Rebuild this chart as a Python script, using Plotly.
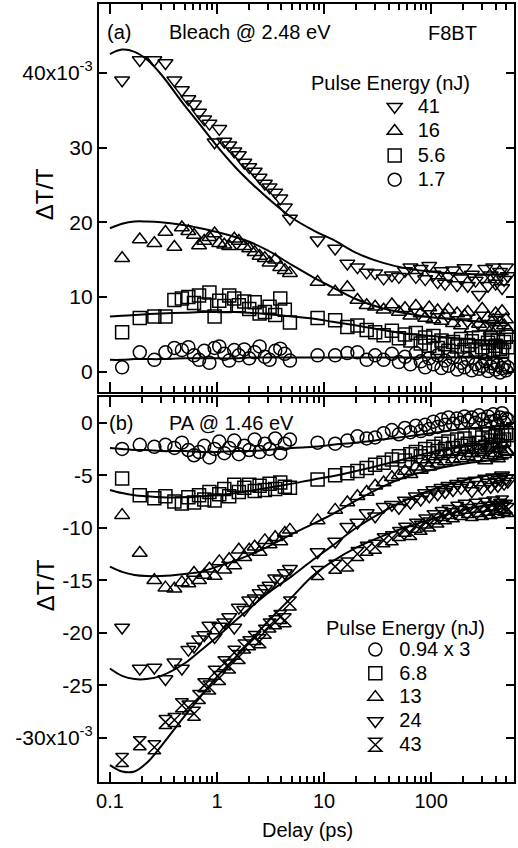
import plotly.graph_objects as go

FONT = "Liberation Sans, Arial, Helvetica, sans-serif"

# ---------------- data (ΔT/T in units of 1e-3, delay in ps) ----------------
delays = [0.13, 0.19, 0.26, 0.33, 0.40, 0.47, 0.54, 0.61, 0.68, 0.76, 0.85, 0.95, 1.05,
          1.17, 1.3, 1.45, 1.6, 1.8, 2.0, 2.25, 2.5, 2.8, 3.1, 3.5, 3.9, 4.3, 4.8,
          8.7, 12.7, 16.5, 20.5, 25, 30, 36, 43, 50, 57, 64, 72, 80, 88, 96, 105,
          115, 125, 135, 145, 160, 175, 190, 205, 220, 240, 260, 280, 300, 320,
          340, 360, 380, 400, 420, 440, 460, 480, 500, 520]

# panel (a) bleach @ 2.48 eV
bleach_41 = [39.0, 41.7, 41.7, 41.3, 39.0, 37.7, 36.5, 35.8, 34.7, 33.8, 33.2, 30.7, 32.5,
             30.8, 30.3, 29.5, 29.0, 28.0, 27.4, 26.8, 26.0, 25.2, 24.7, 24.0, 23.2, 22.0, 20.5,
             17.6, 16.5, 14.5, 14.0, 13.3, 13.2, 12.5, 12.9, 12.7, 13.5, 14.0, 12.7, 13.8, 12.4,
             14.2, 13.0, 12.0, 13.5, 11.8, 12.8, 13.6, 11.6, 12.5, 13.9, 11.5, 13.0, 12.2, 10.3,
             12.5, 13.8, 11.5, 12.9, 14.0, 11.8, 12.6, 13.4, 11.2, 12.3, 14.0, 12.8]
bleach_16 = [15.2, 17.7, 17.2, 18.7, 16.7, 19.3, 18.8, 18.3, 16.9, 17.5, 18.0, 18.5, 17.2,
             17.0, 16.8, 17.8, 17.5, 16.8, 16.5, 16.0, 15.5, 15.2, 14.6, 15.0, 14.0, 13.6, 13.2,
             12.0, 10.7, 11.3, 9.6, 8.9, 8.7, 8.3, 9.0, 8.0, 8.5, 7.5, 8.8, 7.8, 7.2,
             8.6, 7.0, 8.2, 6.8, 7.6, 8.3, 6.5, 7.8, 6.2, 7.5, 8.0, 5.8, 7.2, 6.4,
             8.4, 6.0, 7.3, 5.5, 6.9, 7.8, 5.9, 6.6, 8.1, 6.2, 7.0, 5.6]
bleach_5p6 = [5.3, 7.2, 7.4, 7.4, 9.6, 9.8, 10.0, 9.2, 10.2, 9.0, 10.6, 7.4, 9.5,
              8.8, 10.2, 9.8, 8.9, 9.4, 8.4, 9.3, 7.8, 8.0, 8.7, 7.6, 9.8, 8.3, 6.6,
              7.2, 6.9, 6.0, 6.2, 5.6, 5.3, 4.9, 5.5, 4.5, 5.0, 4.2, 5.2, 3.8, 4.6,
              3.5, 4.8, 3.2, 4.2, 3.7, 2.8, 4.0, 3.4, 4.4, 2.9, 3.6, 4.1, 3.0, 4.6,
              3.3, 2.6, 3.9, 4.5, 2.9, 3.5, 4.2, 3.1, 2.7, 4.0, 4.7, 3.3]
bleach_1p7 = [0.6, 2.6, 1.6, 2.6, 3.2, 2.9, 3.3, 2.2, 1.6, 2.8, 1.2, 3.2, 3.4,
              2.4, 1.5, 2.9, 2.2, 3.0, 1.8, 2.6, 3.4, 2.0, 1.6, 2.8, 3.1, 2.4, 1.5,
              2.2, 2.2, 2.5, 2.6, 1.6, 2.2, 1.6, 2.4, 1.3, 2.0, 1.0, 2.5, 1.4, 0.6,
              1.8, 1.0, 2.2, 0.5, 1.5, 0.8, 1.9, 0.3, 1.2, 0.6, 1.7, 0.2, 1.0, 0.4,
              0.8, 1.4, 0.1, 0.7, 1.1, 0.3, 0.9, -0.1, 0.5, 1.0, 0.2, 0.6]

# panel (b) photoinduced absorption @ 1.46 eV
pa_0p94 = [-2.5, -2.1, -2.3, -2.1, -2.4, -1.9, -2.6, -3.1, -2.8, -2.2, -3.3, -2.5, -1.8,
           -2.9, -2.4, -1.7, -3.0, -2.2, -2.6, -1.6, -2.8, -2.0, -2.5, -1.5, -2.9, -2.0, -1.6,
           -1.9, -2.0, -1.7, -1.3, -1.5, -1.4, -1.0, -0.7, -1.1, -0.5, -0.9, -0.3, -0.8, -0.2,
           -0.6, 0.1, -0.4, 0.3, -0.2, 0.5, -0.1, 0.4, 0.0, 0.6, 0.2, 0.5, 0.0, 0.7,
           0.3, -0.3, 0.6, 0.1, 0.8, 0.2, -0.2, 0.5, 0.9, 0.0, 0.4, 0.3]
pa_6p8 = [-5.3, -6.9, -7.2, -7.0, -7.5, -7.7, -7.1, -7.6, -6.9, -7.3, -6.6, -7.4, -6.8,
          -6.3, -7.0, -5.9, -6.6, -6.2, -5.9, -6.5, -6.0, -6.4, -5.8, -6.3, -5.7, -6.1, -6.2,
          -5.4, -5.0, -4.8, -4.6, -4.3, -4.0, -3.8, -3.5, -3.2, -3.6, -3.0, -2.8, -3.2, -2.5,
          -2.9, -2.3, -2.7, -2.0, -2.5, -1.8, -2.4, -1.6, -2.2, -1.5, -2.0, -2.6, -1.2, -1.9,
          -1.4, -2.3, -1.1, -1.7, -2.1, -1.3, -0.9, -1.8, -1.2, -1.6, -1.0, -1.2]
pa_13 = [-8.8, -12.4, -15.0, -15.7, -15.8, -15.2, -15.3, -14.3, -15.0, -14.5, -13.9, -14.6, -13.2,
         -14.0, -13.0, -13.6, -12.1, -12.8, -12.1, -11.8, -12.3, -11.2, -11.6, -10.9, -11.3, -10.5, -10.2,
         -9.3, -8.3, -7.6, -7.0, -6.6, -6.0, -5.7, -5.2, -5.0, -4.6, -4.9, -4.2, -4.5, -3.8,
         -4.2, -3.5, -3.9, -3.2, -3.7, -3.0, -3.5, -2.8, -3.4, -2.6, -3.2, -2.9, -3.3, -2.6,
         -2.8, -3.6, -2.4, -3.1, -2.2, -2.9, -3.4, -2.5, -2.0, -3.0, -2.7, -2.8]
pa_24 = [-19.5, -23.4, -23.3, -24.4, -22.8, -23.4, -21.6, -21.3, -20.6, -20.2, -19.3, -20.4, -19.4,
         -19.0, -18.5, -19.5, -17.6, -17.8, -16.9, -16.7, -16.2, -15.8, -15.5, -14.8, -14.9, -14.3, -13.9,
         -12.3, -11.3, -9.9, -9.5, -8.6, -8.9, -8.0, -7.8, -8.1, -7.4, -7.6, -7.0, -7.3, -6.7,
         -7.0, -6.4, -6.8, -6.2, -6.6, -6.0, -6.4, -5.8, -6.2, -5.6, -6.0, -6.5, -5.5, -5.9,
         -6.3, -5.3, -5.7, -6.1, -5.2, -5.6, -6.0, -5.4, -5.0, -5.8, -5.3, -5.6]
pa_43 = [-32.1, -30.5, -30.9, -28.5, -28.3, -26.9, -27.1, -27.7, -26.1, -25.0, -25.2, -23.8, -24.3,
         -22.9, -23.2, -21.9, -22.3, -21.3, -21.0, -20.5, -20.8, -19.9, -19.3, -19.0, -18.5, -18.8, -17.2,
         -14.3, -13.7, -13.5, -12.5, -12.0, -11.8, -11.2, -11.0, -10.6, -10.2, -10.5, -9.8, -10.0, -9.4,
         -9.7, -9.0, -9.3, -8.7, -9.0, -8.5, -8.8, -8.2, -8.6, -8.0, -8.4, -8.7, -7.9, -8.3,
         -8.6, -7.8, -8.2, -8.5, -7.7, -8.1, -8.4, -7.9, -7.6, -8.2, -8.0, -8.3]

# fit curves
fit_t = [0.1, 0.13, 0.17, 0.22, 0.3, 0.5, 0.7, 1, 1.5, 2, 3, 5, 8, 12, 20, 35, 60, 100, 200, 350, 530]
fit_41 = [42.5, 43.1, 42.8, 41.8, 39.8, 35.6, 33.0, 30.2, 27.3, 25.5, 23.2, 20.6, 18.9, 17.7, 15.9,
          14.6, 13.8, 13.4, 13.1, 13.0, 13.0]
fit_16 = [19.2, 19.8, 20.1, 20.1, 20.0, 19.6, 19.2, 18.7, 18.0, 17.4, 16.2, 14.3, 12.6, 11.3, 9.7,
          8.5, 7.8, 7.3, 6.9, 6.6, 6.5]
fit_5p6 = [7.4, 7.5, 7.6, 7.7, 7.8, 7.9, 8.0, 8.0, 8.0, 7.9, 7.7, 7.4, 7.1, 6.7, 6.2,
           5.6, 5.1, 4.8, 4.4, 4.2, 4.1]
fit_1p7 = [1.6, 1.6, 1.7, 1.7, 1.7, 1.8, 1.8, 1.8, 1.8, 1.9, 1.9, 1.9, 1.9, 1.9, 1.9,
           1.9, 1.9, 1.9, 1.9, 1.9, 1.9]
fit_0p94 = [-2.4, -2.5, -2.6, -2.6, -2.7, -2.7, -2.8, -2.8, -2.7, -2.7, -2.6, -2.4, -2.3, -2.1, -1.9,
            -1.6, -1.3, -1.0, -0.6, -0.4, -0.2]
fit_6p8 = [-6.4, -6.7, -6.9, -7.0, -7.1, -7.1, -7.0, -6.9, -6.7, -6.5, -6.2, -5.8, -5.4, -5.1, -4.6,
           -4.0, -3.4, -2.8, -2.3, -2.0, -1.8]
fit_13 = [-13.7, -14.2, -14.5, -14.6, -14.6, -14.4, -14.2, -13.7, -13.1, -12.6, -11.8, -10.6, -9.6,
          -8.7, -7.4, -6.1, -5.1, -4.5, -3.9, -3.6, -3.4]
fit_24 = [-23.4, -24.1, -24.4, -24.4, -24.1, -22.9, -21.7, -20.4, -18.8, -17.7, -16.2, -14.6, -13.0,
          -11.7, -10.0, -8.5, -7.3, -6.4, -5.5, -5.0, -4.8]
fit_43 = [-32.6, -33.2, -33.2, -32.4, -30.8, -27.9, -26.1, -24.2, -22.3, -20.9, -18.9, -16.6, -14.5,
          -13.2, -11.9, -10.8, -9.9, -9.2, -8.3, -7.8, -7.5]

top_names = ["41", "16", "5.6", "1.7"]
top_series = [bleach_41, bleach_16, bleach_5p6, bleach_1p7]
top_fits = [fit_41, fit_16, fit_5p6, fit_1p7]
top_symbols = ["triangle-down-open", "triangle-up-open", "square-open", "circle-open"]

bot_names = ["0.94 x 3", "6.8", "13", "24", "43"]
bot_series = [pa_0p94, pa_6p8, pa_13, pa_24, pa_43]
bot_fits = [fit_0p94, fit_6p8, fit_13, fit_24, fit_43]
bot_symbols = ["circle-open", "square-open", "triangle-up-open", "triangle-down-open", "hourglass-open"]

x_ticks = [0.1, 1, 10, 100]
x_ticktext = ["0.1", "1", "10", "100"]
x_minor = [0.2, 0.3, 0.4, 0.5, 0.6, 0.7, 0.8, 0.9, 2, 3, 4, 5, 6, 7, 8, 9,
           20, 30, 40, 50, 60, 70, 80, 90, 200, 300, 400, 500]
top_yticks = [0, 10, 20, 30, 40]
top_yticktext = ["0", "10", "20", "30", "40x10<sup>-3</sup>"]
bot_yticks = [0, -5, -10, -15, -20, -25, -30]
bot_yticktext = ["0", "-5", "-10", "-15", "-20", "-25", "-30x10<sup>-3</sup>"]

# ---------------- figure ----------------
fig = go.Figure()

def marker(sym):
    return dict(symbol=sym, size=13, color="black", line=dict(color="black", width=1.5))

def label(s):
    return '<span style="font-size:20px">' + s + '</span>'

for name, ys, fy, sym in zip(top_names, top_series, top_fits, top_symbols):
    fig.add_trace(go.Scatter(x=fit_t, y=fy, mode="lines", line=dict(color="black", width=2, shape="spline"),
                             xaxis="x", yaxis="y", showlegend=False, hoverinfo="skip"))
for name, ys, fy, sym in zip(top_names, top_series, top_fits, top_symbols):
    fig.add_trace(go.Scatter(x=delays, y=ys, mode="markers", name=label(name), marker=marker(sym),
                             xaxis="x", yaxis="y", legend="legend"))

for name, ys, fy, sym in zip(bot_names, bot_series, bot_fits, bot_symbols):
    fig.add_trace(go.Scatter(x=fit_t, y=fy, mode="lines", line=dict(color="black", width=2, shape="spline"),
                             xaxis="x2", yaxis="y2", showlegend=False, hoverinfo="skip"))
for name, ys, fy, sym in zip(bot_names, bot_series, bot_fits, bot_symbols):
    fig.add_trace(go.Scatter(x=delays, y=ys, mode="markers", name=label(name), marker=marker(sym),
                             xaxis="x2", yaxis="y2", legend="legend2"))

xcommon = dict(type="log", range=[-1.102, 2.774], showline=True, linewidth=2.3, linecolor="black",
               mirror="ticks", ticks="inside", ticklen=10, tickwidth=2, tickcolor="black",
               tickmode="array", tickvals=x_ticks, ticktext=x_ticktext,
               minor=dict(ticks="inside", ticklen=6, tickwidth=1.5, tickcolor="black",
                          tickmode="array", tickvals=x_minor, showgrid=False),
               showgrid=False, zeroline=False,
               tickfont=dict(family=FONT, size=20, color="black"))
ycommon = dict(showline=True, linewidth=2.3, linecolor="black", mirror="ticks", ticks="inside",
               ticklen=8, tickwidth=2, tickcolor="black", showgrid=False, zeroline=False,
               tickmode="array", tickfont=dict(family=FONT, size=21, color="black"))

fig.update_layout(
    width=518, height=848,
    margin=dict(l=99, r=2, t=4, b=66),
    paper_bgcolor="white", plot_bgcolor="white",
    font=dict(family=FONT, color="black", size=20),
    xaxis=dict(**xcommon, anchor="y", domain=[0, 1], showticklabels=False),
    yaxis=dict(**ycommon, anchor="x", domain=[0.5013, 1], range=[-2.7, 49.2],
               tickvals=top_yticks, ticktext=top_yticktext),
    xaxis2=dict(**xcommon, anchor="y2", domain=[0, 1]),
    yaxis2=dict(**ycommon, anchor="x2", domain=[0, 0.4949], range=[-34.2, 2.45],
                tickvals=bot_yticks, ticktext=bot_yticktext),
    legend=dict(x=0.657, y=0.890, xanchor="left", yanchor="top", bgcolor="rgba(0,0,0,0)",
                font=dict(family=FONT, size=16.4, color="black"), itemwidth=36, tracegroupgap=0,
                traceorder="normal"),
    legend2=dict(x=0.608, y=0.192, xanchor="left", yanchor="top", bgcolor="rgba(0,0,0,0)",
                 font=dict(family=FONT, size=16, color="black"), itemwidth=38, tracegroupgap=0,
                 traceorder="normal"),
    showlegend=True,
)

ann = dict(xref="paper", yref="paper", showarrow=False, font=dict(family=FONT, size=20, color="black"))
fig.add_annotation(text="(a)", x=0.0144, y=0.964, xanchor="left", yanchor="middle", **ann)
fig.add_annotation(text="Bleach @ 2.48 eV", x=0.163, y=0.964, xanchor="left", yanchor="middle", **ann)
fig.add_annotation(text="F8BT", x=0.787, y=0.9627, xanchor="left", yanchor="middle", **ann)
fig.add_annotation(text="Pulse Energy (nJ)", x=0.506, y=0.8985, xanchor="left", yanchor="middle", **ann)
fig.add_annotation(text="(b)", x=0.0192, y=0.4614, xanchor="left", yanchor="middle", **ann)
fig.add_annotation(text="PA @ 1.46 eV", x=0.163, y=0.4614, xanchor="left", yanchor="middle", **ann)
fig.add_annotation(text="Pulse Energy (nJ)", x=0.542, y=0.198, xanchor="left", yanchor="middle", **ann)
fig.add_annotation(text="Delay (ps)", x=0.5036, y=-0.0617, xanchor="center", yanchor="middle", **ann)
big = dict(ann)
big["font"] = dict(family=FONT, size=24, color="black")
fig.add_annotation(text="ΔT/T", x=-0.1295, y=0.7558, xanchor="center", yanchor="middle", textangle=-90, **big)
fig.add_annotation(text="ΔT/T", x=-0.1295, y=0.2532, xanchor="center", yanchor="middle", textangle=-90, **big)

fig.write_html("out.html")
